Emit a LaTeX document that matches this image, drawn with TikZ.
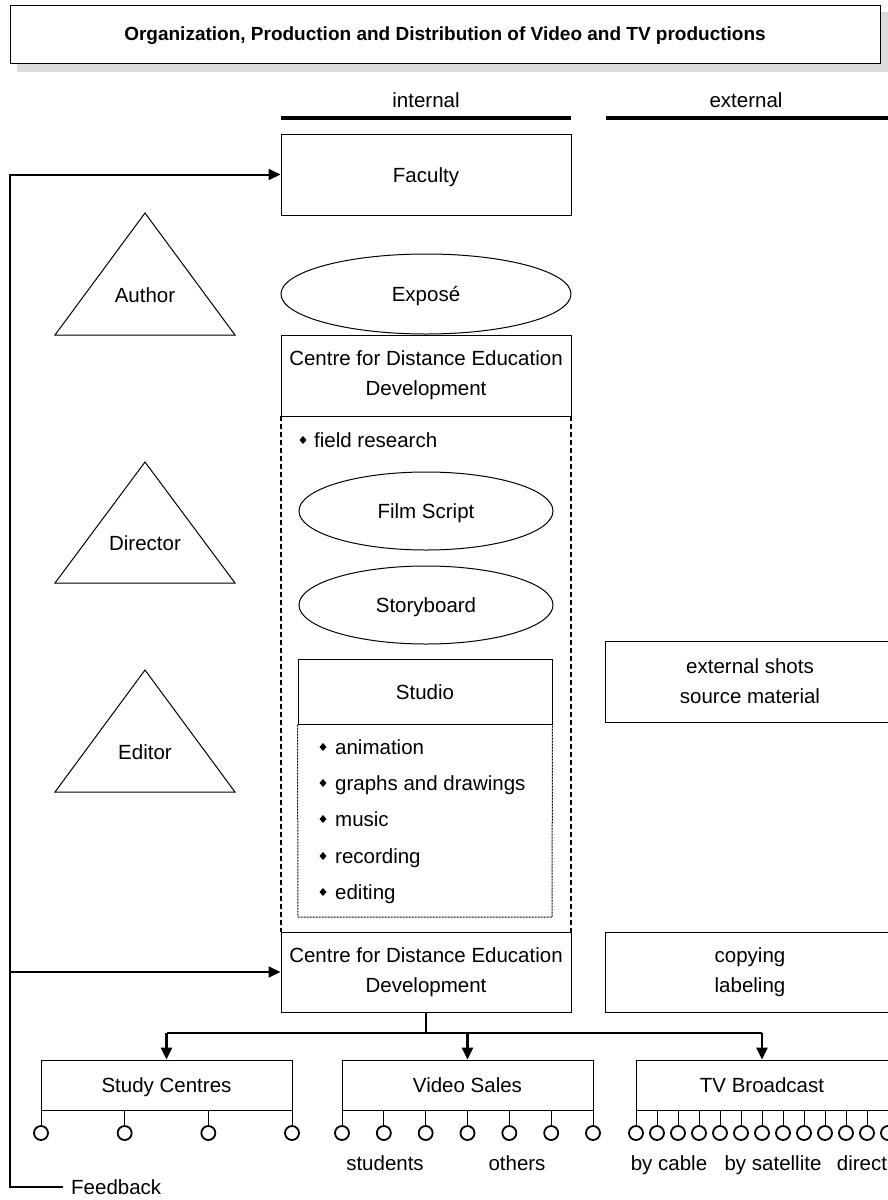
\documentclass[tikz,border=0pt]{standalone}
\usepackage{fontspec}
\setmainfont{Liberation Sans}
\usetikzlibrary{arrows.meta,shapes.geometric}
\begin{document}
\begin{tikzpicture}[x=1pt,y=-1pt,
  every node/.style={font=\fontsize{20.5pt}{30pt}\selectfont, inner sep=0pt, text height=15pt, text depth=0pt},
  box/.style={draw, line width=1pt, rectangle, align=center, minimum width=290pt, minimum height=81pt},
  twoline/.style={text height={}, text depth={}},
  oval/.style={draw, line width=1pt, ellipse, minimum width=290pt, minimum height=80pt},
  smalloval/.style={draw, line width=1pt, ellipse, minimum width=254pt, minimum height=78pt},
  sub/.style={draw, line width=1pt, rectangle, minimum width=251pt, minimum height=50pt},
  tri/.style={draw, line width=1pt, line join=miter},
  fbline/.style={line width=2pt},
  dist/.style={line width=2.5pt},
  tip/.style={-{Triangle[length=12pt,width=11pt]}},
  leaf/.style={draw, circle, line width=1.8pt, minimum size=14pt, inner sep=0pt, text height=0pt, text depth=0pt},
  stem/.style={line width=1pt},
  heading/.style={line width=4pt},
  bul/.style={fill=black}
]
\useasboundingbox (0,0) rectangle (888,1200);
\clip (0,0) rectangle (888,1200);
\fill[white] (0,0) rectangle (888,1200);

% title
\fill[black!14] (17,12) rectangle (888,72);
\node[draw, fill=white, line width=1pt, minimum width=870pt, minimum height=58pt,
      text height=13.5pt, font=\fontsize{19pt}{22pt}\selectfont\bfseries] (title) at (445,34)
  {Organization, Production and Distribution of Video and TV productions};

% column headings
\node (intl) at (426,100) {internal};
\node (extl) at (746,100) {external};
\coordinate (hi1) at (281,118); \coordinate (hi2) at (571,118);
\coordinate (he1) at (606,118); \coordinate (he2) at (888,118);
\draw[heading] (hi1) -- (hi2);
\draw[heading] (he1) -- (he2);

% internal column
\node[box] (fac) at (426,174.5) {Faculty};
\node[oval] (expo) at (426,294) {Exposé};
\node[box, twoline] (cde1) at (426,375.5) {Centre for Distance Education\\Development};

\coordinate (dl1) at (281,416); \coordinate (dl2) at (281,932);
\coordinate (dr1) at (571,416); \coordinate (dr2) at (571,932);
\draw[line width=1.3pt, dash pattern=on 5pt off 3pt] (dl1) -- (dl2);
\draw[line width=1.3pt, dash pattern=on 5pt off 3pt] (dr1) -- (dr2);

\fill[bul] (303,436) -- (306.5,440) -- (303,444) -- (299.5,440) -- cycle;
\node[anchor=west] (field) at (314,440) {field research};

\node[smalloval] (film) at (426,511) {Film Script};
\node[smalloval] (story) at (426,605) {Storyboard};

\node[draw, line width=1pt, minimum width=254pt, minimum height=65pt] (studio) at (425,691.5) {Studio};
\draw[line width=1pt, dash pattern=on 2pt off 1pt] (studio.south west) -- (298,917) -- (552,917) -- (studio.south east);

\foreach \yy/\txt [count=\i] in {747/animation, 783/graphs and drawings, 819/music, 856/recording, 892/editing} {
  \fill[bul] (323,\yy-4) -- (326.5,\yy) -- (323,\yy+4) -- (319.5,\yy) -- cycle;
  \node[anchor=west] (item\i) at (335,\yy) {\txt};
}

\node[box, twoline, minimum height=80pt] (cde2) at (426,972) {Centre for Distance Education\\Development};

% external column
\node[box, twoline] (ext) at (750,681.5) {external shots\\source material};
\node[box, twoline, minimum height=80pt] (copy) at (750,972) {copying\\labeling};

% triangles
\draw[tri] (145,213) -- (235,335) -- (55,335) -- cycle;
\node (author) at (145,295) {Author};
\draw[tri] (145,462) -- (235,583) -- (55,583) -- cycle;
\node (director) at (145,543) {Director};
\draw[tri] (145,670) -- (235,792) -- (55,792) -- cycle;
\node (editor) at (145,752) {Editor};

% feedback
\coordinate (fbend) at (63,1187);
\coordinate (fbcorner) at (10,1187);
\coordinate (fbmid) at (10,972);
\draw[fbline, tip] (fbend) -- (fbcorner) |- (fac.west);
\draw[fbline, tip] (fbmid) -- (cde2.west);
\node[anchor=west] (feedback) at (71,1187) {Feedback};

% distribution
\node[sub] (sc) at (166.5,1085) {Study Centres};
\node[sub] (vs) at (467.5,1085) {Video Sales};
\node[sub, minimum width=252pt] (tv) at (762,1085) {TV Broadcast};

\coordinate (dj) at (426,1033);
\coordinate (dl) at (166.5,1033);
\coordinate (dr) at (762,1033);
\draw[dist] (cde2.south) -- (dj);
\draw[dist] (dl) -- (dr);
\draw[dist, tip] (dl) -- (sc.north);
\draw[dist, tip] (467.5,1033) -- (vs.north);
\draw[dist, tip] (dr) -- (tv.north);

\foreach \k in {0,...,3} {
  \pgfmathsetmacro{\xx}{41+\k*83.667}
  \node[leaf] (scl\k) at (\xx,1133) {};
  \draw[stem] (\xx,1110) -- (scl\k.north);
}
\foreach \k in {0,...,6} {
  \pgfmathsetmacro{\xx}{342+\k*41.833}
  \node[leaf] (vsl\k) at (\xx,1133) {};
  \draw[stem] (\xx,1110) -- (vsl\k.north);
}
\foreach \k in {0,...,12} {
  \pgfmathsetmacro{\xx}{636+\k*21}
  \node[leaf] (tvl\k) at (\xx,1133) {};
  \draw[stem] (\xx,1110) -- (tvl\k.north);
}

\node (students) at (385,1163) {students};
\node (others) at (517,1163) {others};
\node (cable) at (669,1163) {by cable};
\node (sat) at (773,1163) {by satellite};
\node (direct) at (862,1163) {direct};
\end{tikzpicture}
\end{document}
